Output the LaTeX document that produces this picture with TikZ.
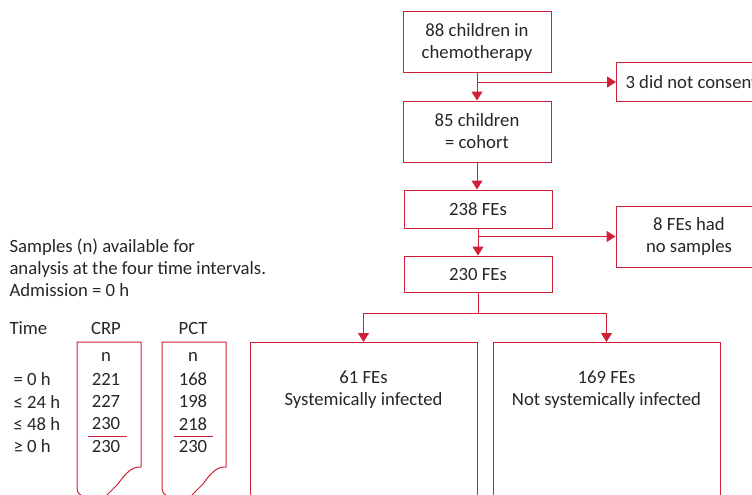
\documentclass[tikz,border=0pt]{standalone}
\usepackage{fontspec}
\setmainfont{Carlito}
\usepackage{xcolor}
\usetikzlibrary{arrows.meta}

\definecolor{boxred}{RGB}{208,32,56}
\definecolor{txtgray}{RGB}{38,38,38}

\begin{document}
\begin{tikzpicture}[x=1pt, y=-1pt,
  every node/.style={font=\fontsize{18.7}{22}\selectfont, text=txtgray},
  box/.style={draw=boxred, line width=1pt, align=center, inner sep=0pt},
  arr/.style={draw=boxred, line width=1pt, -{Triangle[length=9pt, width=11pt]}},
  line/.style={draw=boxred, line width=1pt}]
  \useasboundingbox (0,0) rectangle (752,495);

  % main column
  \node[box, minimum width=148, minimum height=61] (children) at (477,42.5) {88 children in\\chemotherapy};
  \node[box, minimum width=148, minimum height=61] (cohort) at (477,131.5) {85 children\\= cohort};
  \node[box, minimum width=148, minimum height=38] (fe238) at (478,209) {238 FEs};
  \node[box, minimum width=148, minimum height=36] (fe230) at (478,274) {230 FEs};

  % side boxes
  \node[box, anchor=west, minimum height=38, inner xsep=9pt] (consent) at (616,82) {3 did not consent};
  \node[box, minimum width=146, minimum height=61] (nosamples) at (689,236.5) {8 FEs had\\no samples};

  % bottom boxes
  \node[box, anchor=north, minimum width=227, minimum height=170] (sysinf) at (363.5,342) {};
  \node[box, anchor=north, minimum width=227, minimum height=170] (notinf) at (606.5,342) {};
  \node[align=center] (sysinftext) at (363.5,389.5) {61 FEs\\Systemically infected};
  \node[align=center] (notinftext) at (606.5,389.5) {169 FEs\\Not systemically infected};

  % connectors
  \draw[arr] (children.south) -- (cohort.north);
  \coordinate (b1) at (477,82);
  \draw[arr] (b1) -- (consent.west);
  \draw[arr] (cohort.south) -- (cohort.south |- fe238.north);
  \draw[arr] (fe238.south) -- (fe230.north);
  \coordinate (b2) at (478,236.5);
  \draw[arr] (b2) -- (nosamples.west);
  \draw[line] (fe230.south) -- ++(0,21) coordinate (split);
  \draw[arr] (split) -| (sysinf.north);
  \draw[arr] (split) -| (notinf.north);

  % samples table
  \node[anchor=west, align=left] (intro) at (6,267.5) {Samples (n) available for\\analysis at the four time intervals.\\Admission = 0 h};
  \node[anchor=west] (time) at (6,328) {Time};
  \node (crp) at (106,328) {CRP};
  \node (pct) at (193,328) {PCT};

  \draw[line] (141,467) -- (141,342) -- (77,342) -- (77,488) to[out=-90, in=180] (84,496) -- (106,496)
    -- (118,484) .. controls (125,474) and (132,466) .. (141,467);
  \draw[line] (226,467) -- (226,342) -- (162,342) -- (162,488) to[out=-90, in=180] (169,496) -- (191,496)
    -- (203,484) .. controls (210,474) and (217,466) .. (226,467);

  \node (crpn) at (106,357) {n};
  \node (pctn) at (193,357) {n};
  \foreach \lab/\crpval/\pctval [count=\i] in {= 0 h/221/168, ≤ 24 h/227/198, ≤ 48 h/230/218, ≥ 0 h/230/230} {
    \node[anchor=west] (row\i) at (10,{357+22.3*\i}) {\lab};
    \node (crp\i) at (106,{357+22.3*\i}) {\crpval};
    \node (pct\i) at (193,{357+22.3*\i}) {\pctval};
  }
  \draw[line] (88,436) -- (127,436);
  \draw[line] (174,436) -- (213,436);
\end{tikzpicture}
\end{document}
